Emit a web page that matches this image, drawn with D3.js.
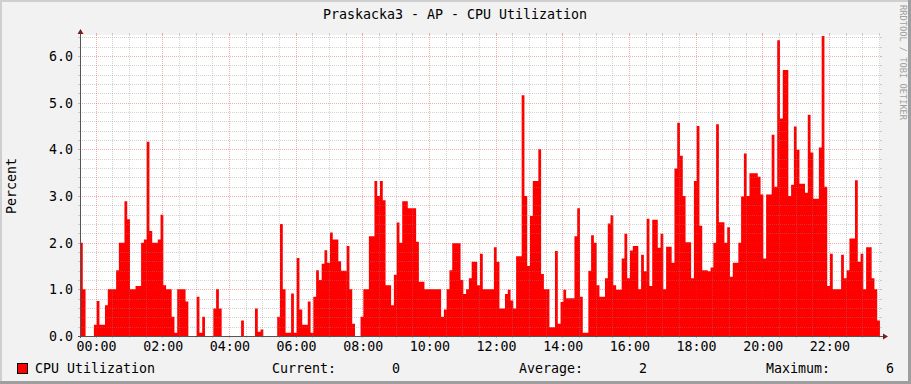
<!DOCTYPE html>
<html>
<head>
<meta charset="utf-8">
<script src="https://cdn.jsdelivr.net/npm/d3@7"></script>
<style>
  body { margin: 0; background: #f2f2f2; }
  svg text { font-family: "DejaVu Sans Mono", monospace; }
</style>
</head>
<body>
<svg id="chart" width="911" height="384"></svg>
<script>
// CPU utilization, one value every 5 minutes (288 steps, 24h)
const cpuValues = [
  2.0, 1.0, 0, 0, 0, 0.24, 0.75, 0.24, 0.24, 0.66,
  1.0, 1.0, 1.0, 1.41, 2.0, 2.0, 2.89, 2.5, 1.0, 1.0,
  1.07, 1.07, 2.0, 2.07, 4.16, 2.25, 2.0, 2.0, 2.07, 2.6,
  1.09, 1.0, 1.0, 0.41, 0.07, 1.0, 1.0, 1.0, 0.74, 0,
  0, 0, 0.84, 0.07, 0.41, 0, 0, 0, 0.59, 1.0,
  0.59, 0, 0, 0, 0, 0, 0, 0, 0.33, 0,
  0, 0, 0, 0.59, 0.09, 0.14, 0, 0, 0, 0,
  0, 0.41, 2.4, 1.0, 0.07, 0.07, 0.91, 0.07, 1.67, 0.57,
  0.24, 0.24, 0.74, 0.07, 0.84, 1.41, 1.2, 1.55, 1.84, 1.57,
  2.22, 2.07, 2.07, 1.6, 1.4, 1.4, 1.93, 1.0, 0.26, 0,
  0, 0.41, 1.0, 1.0, 2.14, 2.14, 3.32, 3.0, 3.32, 2.91,
  1.09, 1.09, 0.66, 1.31, 2.43, 2.0, 2.89, 2.89, 2.74, 2.74,
  2.74, 2.02, 1.16, 1.16, 1.0, 1.0, 1.0, 1.0, 1.0, 1.0,
  0.41, 0.57, 1.0, 1.41, 1.99, 1.99, 1.99, 1.2, 0.9, 1.0,
  1.24, 1.59, 1.59, 1.09, 1.76, 1.0, 1.0, 1.0, 1.0, 1.9,
  1.59, 0.59, 0.59, 0.9, 0.99, 0.76, 0.59, 1.71, 1.71, 5.16,
  3.0, 1.5, 2.57, 3.32, 3.32, 4.0, 1.33, 1.0, 1.0, 0.19,
  0.19, 1.82, 0.26, 0.73, 0.99, 0.81, 0.81, 0.81, 2.14, 2.74,
  0.84, 0.07, 0.07, 1.4, 2.16, 2.0, 1.09, 0.84, 0.84, 1.24,
  2.41, 2.59, 1.09, 0.99, 0.99, 1.66, 2.19, 1.24, 1.83, 1.93,
  1.93, 1.0, 1.74, 1.39, 2.51, 1.07, 2.49, 2.49, 1.89, 2.19,
  1.0, 1.91, 1.91, 1.57, 3.59, 4.57, 3.86, 3.0, 2.01, 2.01,
  1.24, 3.32, 4.5, 2.36, 1.41, 1.41, 1.39, 1.47, 2.0, 4.54,
  2.44, 2.44, 2.0, 2.33, 1.27, 1.57, 1.57, 2.0, 2.99, 3.91,
  3.0, 3.49, 3.49, 3.49, 3.41, 3.03, 1.66, 3.03, 3.03, 4.31,
  3.2, 6.34, 4.66, 5.7, 5.7, 3.0, 3.24, 4.49, 3.99, 3.26,
  3.26, 3.07, 4.74, 3.93, 2.94, 2.94, 4.04, 6.43, 3.2, 1.07,
  1.76, 1.0, 1.0, 1.0, 1.74, 1.24, 1.41, 2.09, 2.09, 3.34,
  1.59, 1.76, 1.0, 1.9, 1.9, 1.24, 1.0, 0.33
];
const yTicks = [0, 1, 2, 3, 4, 5, 6];
const legendLabels = ["Current:", "Average:", "Maximum:"];
const legendValues = [0, 2, 6];

const title = "Praskacka3 - AP - CPU Utilization";
const seriesName = "CPU Utilization";
const startTime = new Date(2019, 11, 31, 23, 32);
const stepMin = 5;

const width = 911;
const height = 384;
const plot = { left: 80, right: 880, top: 35, bottom: 336 };

const svg = d3.select("#chart");

// background + 3d frame
svg.append("rect").attr("width", width).attr("height", height).attr("fill", "#f2f2f2");
svg.append("path").attr("d", `M0,0H${width}V2H2V${height}H0Z`).attr("fill", "#cfcfcf");
svg.append("path").attr("d", `M${width},${height}H0V${height - 3}H${width - 3}V0H${width}Z`).attr("fill", "#9e9e9e");

svg.append("rect")
  .attr("x", plot.left).attr("y", plot.top)
  .attr("width", plot.right - plot.left).attr("height", plot.bottom - plot.top)
  .attr("fill", "#fff");

const endTime = d3.timeMinute.offset(startTime, stepMin * cpuValues.length);
const data = cpuValues.map((v, i) => ({ t: d3.timeMinute.offset(startTime, i * stepMin), v: v }));

const x = d3.scaleTime().domain([startTime, endTime]).range([plot.left, plot.right]);
const y = d3.scaleLinear().domain([0, 6.45]).range([plot.bottom, plot.top]);

// area
const area = d3.area()
  .x((d) => x(d.t))
  .y0(y(0))
  .y1((d) => y(d.v))
  .curve(d3.curveStepAfter);

svg.append("path")
  .datum(data.concat([{ t: endTime, v: cpuValues[cpuValues.length - 1] }]))
  .attr("d", area)
  .attr("fill", "#ff0000");

// grid
const minorColor = "rgba(140,140,140,0.38)";
const majorColor = "rgba(215,40,40,0.36)";
const grid = svg.append("g").attr("shape-rendering", "crispEdges");

const minorY = d3.range(0, 6.45, 0.2).filter((v) => Math.abs(v - Math.round(v)) > 0.01);
const minorX = x.ticks(d3.timeMinute.every(30)).filter((d) => d.getMinutes() !== 0 || d.getHours() % 2 !== 0);
const majorX = x.ticks(d3.timeHour.every(2));

const hLine = (v, color) => {
  const yy = Math.round(y(v)) + 0.5;
  grid.append("line").attr("x1", plot.left).attr("x2", plot.right).attr("y1", yy).attr("y2", yy)
    .attr("stroke", color).attr("stroke-dasharray", "1,1");
  grid.append("line").attr("x1", plot.left - 2).attr("x2", plot.left).attr("y1", yy).attr("y2", yy).attr("stroke", color);
  grid.append("line").attr("x1", plot.right).attr("x2", plot.right + 2).attr("y1", yy).attr("y2", yy).attr("stroke", color);
};
const vLine = (d, color) => {
  const xx = Math.round(x(d)) + 0.5;
  grid.append("line").attr("x1", xx).attr("x2", xx).attr("y1", plot.top).attr("y2", plot.bottom)
    .attr("stroke", color).attr("stroke-dasharray", "1,1");
  grid.append("line").attr("x1", xx).attr("x2", xx).attr("y1", plot.bottom).attr("y2", plot.bottom + 2).attr("stroke", color);
  grid.append("line").attr("x1", xx).attr("x2", xx).attr("y1", plot.top - 2).attr("y2", plot.top).attr("stroke", color);
};

minorY.forEach((v) => hLine(v, minorColor));
minorX.forEach((d) => vLine(d, minorColor));
yTicks.filter((v) => v > 0).forEach((v) => hLine(v, majorColor));
majorX.forEach((d) => vLine(d, majorColor));

// axes
const axisColor = "#555";
svg.append("line").attr("x1", plot.left + 0.5).attr("x2", plot.left + 0.5)
  .attr("y1", plot.bottom + 2).attr("y2", plot.top - 3).attr("stroke", axisColor);
svg.append("line").attr("x1", plot.left - 2).attr("x2", plot.right + 3)
  .attr("y1", plot.bottom + 0.5).attr("y2", plot.bottom + 0.5).attr("stroke", axisColor);
svg.append("path")
  .attr("d", `M${plot.left - 2.5},${plot.top - 1}L${plot.left + 3.5},${plot.top - 1}L${plot.left + 0.5},${plot.top - 6}Z`)
  .attr("fill", "#7f1a1a");
svg.append("path")
  .attr("d", `M${plot.right + 3},${plot.bottom - 2.5}L${plot.right + 3},${plot.bottom + 3.5}L${plot.right + 8},${plot.bottom + 0.5}Z`)
  .attr("fill", "#7f1a1a");

// y labels
svg.append("g")
  .selectAll("text")
  .data(yTicks)
  .enter()
  .append("text")
  .attr("x", 73)
  .attr("y", (d) => y(d) + 5)
  .attr("text-anchor", "end")
  .attr("font-size", "13.3px")
  .attr("fill", "#000")
  .text((d) => d3.format(".1f")(d));

// x labels
svg.append("g")
  .selectAll("text")
  .data(majorX)
  .enter()
  .append("text")
  .attr("x", (d) => x(d) + 1)
  .attr("y", 351)
  .attr("text-anchor", "middle")
  .attr("font-size", "13.3px")
  .text((d) => d3.timeFormat("%H:%M")(d));

// titles
svg.append("text").attr("x", 455).attr("y", 19).attr("text-anchor", "middle")
  .attr("font-size", "13.3px").text(title);
svg.append("text").attr("transform", "translate(16,186) rotate(-90)").attr("text-anchor", "middle")
  .attr("font-size", "13.3px").text("Percent");
svg.append("text").attr("transform", "translate(900,5) rotate(90)")
  .attr("font-size", "8.7px").attr("fill", "#a0a0a0").text("RRDTOOL / TOBI OETIKER");

// legend
svg.append("rect").attr("x", 17.5).attr("y", 363.5).attr("width", 10).attr("height", 10)
  .attr("fill", "#ff0000").attr("stroke", "#000");
svg.append("text").attr("x", 35).attr("y", 373).attr("font-size", "13.3px").text(seriesName);

const legend = svg.append("g")
  .selectAll("g")
  .data(legendLabels)
  .enter()
  .append("g")
  .attr("transform", (d, i) => `translate(${272 + i * 247},373)`);
legend.append("text").attr("font-size", "13.3px").text((d) => d);
legend.append("text").attr("x", 128).attr("text-anchor", "end").attr("font-size", "13.3px")
  .text((d, i) => d3.format(".0f")(legendValues[i]));
</script>
</body>
</html>
